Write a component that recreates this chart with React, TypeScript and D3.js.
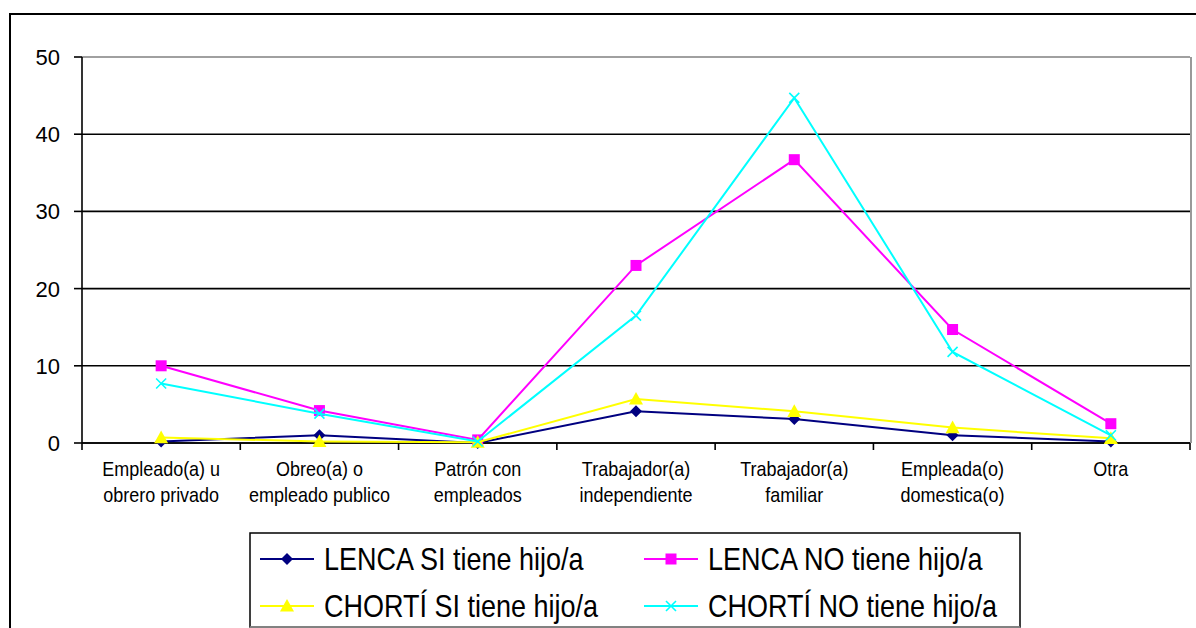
import React from "react";
import * as d3 from "d3";

const categories: string[][] = [
  ["Empleado(a) u", "obrero privado"],
  ["Obreo(a) o", "empleado publico"],
  ["Patrón con", "empleados"],
  ["Trabajador(a)", "independiente"],
  ["Trabajador(a)", "familiar"],
  ["Empleada(o)", "domestica(o)"],
  ["Otra"],
];
const lencaSi = [0.2, 1.0, 0.0, 4.1, 3.1, 1.0, 0.2];
const lencaNo = [10.0, 4.2, 0.4, 23.0, 36.7, 14.7, 2.5];
const chortiSi = [0.7, 0.2, 0.1, 5.7, 4.1, 2.0, 0.6];
const chortiNo = [7.7, 3.8, 0.2, 16.5, 44.7, 11.8, 1.0];
const yTicks = [0, 10, 20, 30, 40, 50];

const seriesNames = [
  "LENCA SI tiene hijo/a",
  "LENCA NO tiene hijo/a",
  "CHORTÍ SI tiene hijo/a",
  "CHORTÍ NO tiene hijo/a",
];

type Shape = "diamond" | "square" | "triangle" | "x";
const series: { name: string; values: number[]; color: string; shape: Shape }[] = [
  { name: seriesNames[0], values: lencaSi, color: "#000080", shape: "diamond" },
  { name: seriesNames[1], values: lencaNo, color: "#FF00FF", shape: "square" },
  { name: seriesNames[2], values: chortiSi, color: "#FFFF00", shape: "triangle" },
  { name: seriesNames[3], values: chortiNo, color: "#00FFFF", shape: "x" },
];

const FONT = "'Liberation Sans', Arial, sans-serif";

function Marker({ shape, x, y, color }: { shape: Shape; x: number; y: number; color: string }) {
  if (shape === "diamond") {
    const s = 6;
    return <path d={`M${x},${y - s}L${x + s},${y}L${x},${y + s}L${x - s},${y}Z`} fill={color} />;
  }
  if (shape === "square") {
    const s = 5.5;
    return <rect x={x - s} y={y - s} width={2 * s} height={2 * s} fill={color} />;
  }
  if (shape === "triangle") {
    const s = 7;
    return <path d={`M${x},${y - s}L${x + s},${y + s * 0.8}L${x - s},${y + s * 0.8}Z`} fill={color} />;
  }
  const s = 5;
  return (
    <path
      d={`M${x - s},${y - s}L${x + s},${y + s}M${x - s},${y + s}L${x + s},${y - s}`}
      stroke={color}
      strokeWidth={1.6}
      fill="none"
    />
  );
}

export default function App() {
  const W = 1196;
  const H = 628;
  const left = 82;
  const right = 1190;
  const top = 57;
  const bottom = 443;

  const x = d3
    .scaleBand<number>()
    .domain(d3.range(categories.length))
    .range([left, right])
    .paddingInner(0)
    .paddingOuter(0);
  const y = d3.scaleLinear().domain([0, 50]).range([bottom, top]);
  const cx = (i: number) => (x(i) as number) + x.bandwidth() / 2;

  const line = d3
    .line<number>()
    .x((_, i) => cx(i))
    .y((d) => y(d));

  const legendItems = [
    { s: series[0], lx: 260, ly: 559 },
    { s: series[1], lx: 644, ly: 559 },
    { s: series[2], lx: 260, ly: 606 },
    { s: series[3], lx: 644, ly: 606 },
  ];

  return (
    <svg
      width={W}
      height={H}
      style={{ position: "absolute", left: 0, top: 0, background: "#fff" }}
      fontFamily={FONT}
    >
      <rect x={0} y={0} width={W} height={H} fill="#fff" />
      <rect x={10} y={14} width={1300} height={700} fill="none" stroke="#000" strokeWidth={2} />

      {/* gridlines */}
      {yTicks.map((t) => (
        <line key={t} x1={left} x2={right} y1={y(t)} y2={y(t)} stroke={t === 50 ? "#808080" : "#000"} strokeWidth={1.6} />
      ))}
      {/* plot area right border */}
      <line x1={right + 1} x2={right + 1} y1={top} y2={bottom} stroke="#808080" strokeWidth={1.6} />
      {/* y axis */}
      <line x1={left} x2={left} y1={top} y2={bottom} stroke="#000" strokeWidth={1.6} />
      {yTicks.map((t) => (
        <g key={"yt" + t}>
          <line x1={left - 8} x2={left} y1={y(t)} y2={y(t)} stroke="#000" strokeWidth={1.6} />
          <text x={60} y={y(t)} dy="0.36em" textAnchor="end" fontSize={22} fill="#000">
            {t}
          </text>
        </g>
      ))}
      {/* x axis */}
      <line x1={left} x2={right} y1={bottom} y2={bottom} stroke="#000" strokeWidth={1.6} />
      {d3.range(categories.length + 1).map((i) => {
        const xx = i < categories.length ? (x(i) as number) : right;
        return <line key={"xt" + i} x1={xx} x2={xx} y1={bottom} y2={bottom + 7} stroke="#000" strokeWidth={1.6} />;
      })}
      {categories.map((lines, i) => (
        <g key={"xl" + i} transform={`translate(${cx(i)},0) scale(1,1.15)`}>
          {lines.map((l, j) => (
            <text key={j} x={0} y={(476 + j * 26) / 1.15} textAnchor="middle" fontSize={18} fill="#000">
              {l}
            </text>
          ))}
        </g>
      ))}

      {/* series */}
      {series.map((s) => (
        <g key={s.name}>
          <path d={line(s.values) || ""} fill="none" stroke={s.color} strokeWidth={2} />
          {s.values.map((v, i) => (
            <Marker key={i} shape={s.shape} x={cx(i)} y={y(v)} color={s.color} />
          ))}
        </g>
      ))}

      {/* legend */}
      <rect x={250} y={533} width={770} height={94} fill="#fff" stroke="#000" strokeWidth={1.5} />
      <line x1={250} x2={1020} y1={627} y2={627} stroke="#999" strokeWidth={1.5} />
      {legendItems.map(({ s, lx, ly }) => (
        <g key={"lg" + s.name}>
          <line x1={lx} x2={lx + 54} y1={ly} y2={ly} stroke={s.color} strokeWidth={2} />
          <Marker shape={s.shape} x={lx + 27} y={ly} color={s.color} />
          <g transform={`translate(${lx + 64},${ly}) scale(1,1.17)`}>
            <text x={0} y={0} dy="0.36em" fontSize={27} fill="#000">
              {s.name}
            </text>
          </g>
        </g>
      ))}
    </svg>
  );
}
